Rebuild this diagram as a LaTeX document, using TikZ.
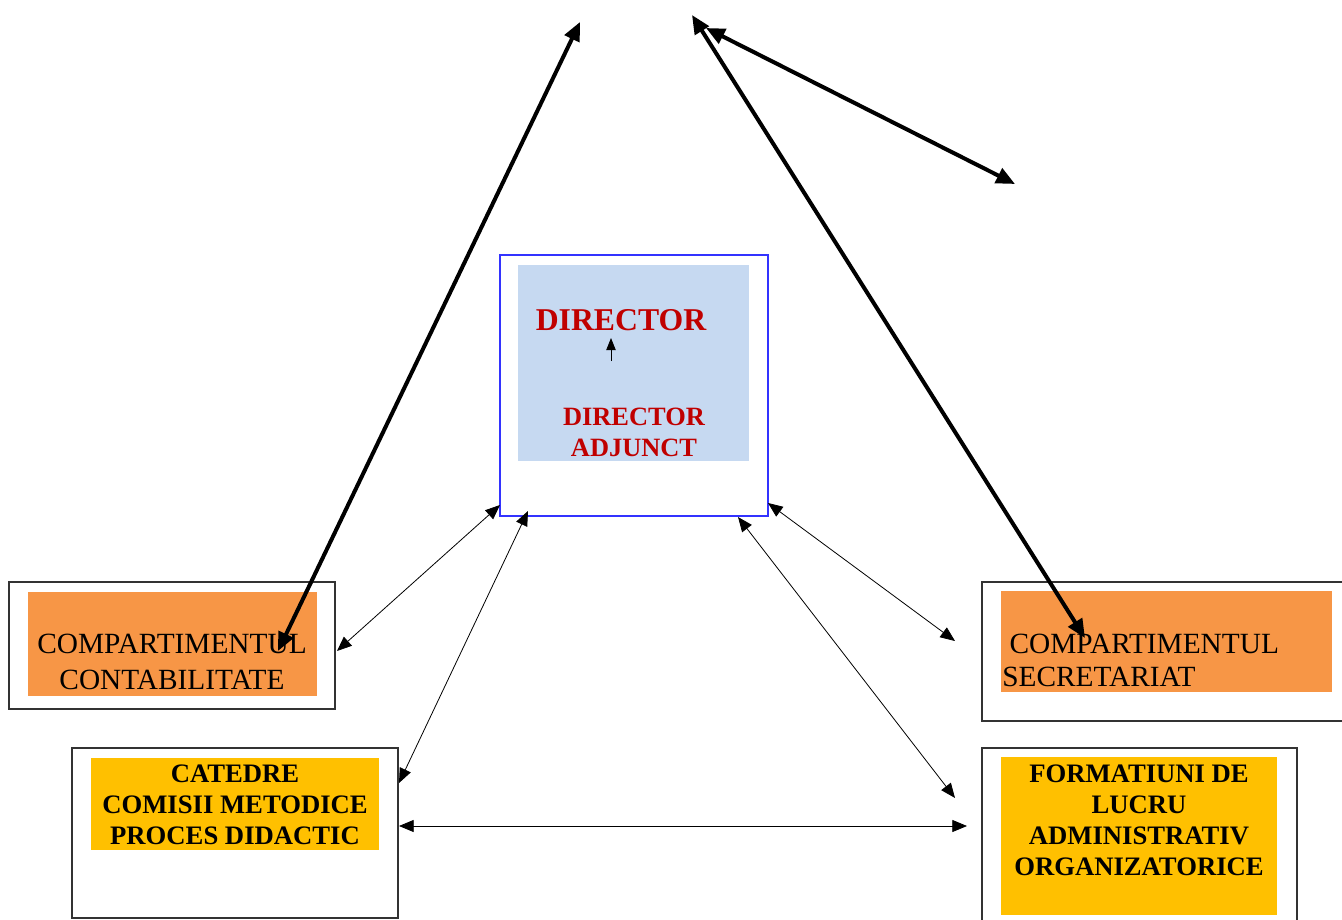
\documentclass[tikz,border=0pt]{standalone}
\usepackage{fontspec}
\setmainfont{Liberation Serif}
\usetikzlibrary{arrows.meta}
\definecolor{dirblue}{HTML}{C6D9F1}
\definecolor{darkred}{HTML}{C00000}
\definecolor{orangefill}{HTML}{F79646}
\definecolor{goldfill}{HTML}{FFC000}
\definecolor{framegray}{HTML}{333333}
\definecolor{frameblue}{HTML}{3333FF}
\begin{document}
\begin{tikzpicture}[x=0.75pt,y=-0.75pt,
  outerbox/.style={draw=framegray,line width=0.9pt,fill=white,inner sep=0pt,outer sep=0pt},
  fillbox/.style={inner sep=0pt,outer sep=0pt},
  thinarrow/.style={{Triangle[length=11pt,width=9pt]}-{Triangle[length=11pt,width=9pt]},line width=0.6pt},
  thickarrow/.style={{Triangle[length=14pt,width=12pt]}-{Triangle[length=14pt,width=12pt]},line width=3pt},
  regtxt/.style={inner sep=0pt,align=left},
  boldtxt/.style={font=\fontsize{20}{23.25}\selectfont\bfseries,inner sep=0pt,align=center}]
\useasboundingbox (0,0) rectangle (1342,920);
% boxes
\node[outerbox,draw=frameblue,minimum width=201pt,minimum height=195.75pt] (dirout) at (634,385.5) {};
\node[fillbox,fill=dirblue,minimum width=173.25pt,minimum height=147pt] (dirin) at (633.5,363) {};
\node[outerbox,minimum width=244.5pt,minimum height=95.25pt] (conout) at (172,645.5) {};
\node[fillbox,fill=orangefill,minimum width=216.75pt,minimum height=78pt] (conin) at (172.5,644) {};
\node[outerbox,minimum width=244.5pt,minimum height=127.5pt] (catout) at (235,833) {};
\node[fillbox,fill=goldfill,minimum width=216pt,minimum height=69pt] (catin) at (235,804) {};
\node[outerbox,minimum width=272.25pt,minimum height=104.25pt] (secout) at (1163.5,651.5) {};
\node[fillbox,fill=orangefill,minimum width=248.25pt,minimum height=75.75pt] (secin) at (1166.5,641.5) {};
\node[outerbox,minimum width=236.25pt,minimum height=132.75pt] (forout) at (1139.5,836.5) {};
\node[fillbox,fill=goldfill,minimum width=207pt,minimum height=118.5pt] (forin) at (1139,836) {};
% texts
\node[font=\fontsize{23.8}{28}\selectfont\bfseries,text=darkred,inner sep=0pt] (dirt) at (621,320) {DIRECTOR};
\node[font=\fontsize{19.8}{23.25}\selectfont\bfseries,text=darkred,inner sep=0pt,align=center] (adj) at (634,432) {DIRECTOR\\ADJUNCT};
\node[regtxt,align=center,font=\fontsize{22}{27}\selectfont] (cont) at (172,662) {COMPARTIMENTUL\\CONTABILITATE};
\node[regtxt,anchor=west,font=\fontsize{22}{24.75}\selectfont] (sect) at (1002,660) {\ COMPARTIMENTUL\\SECRETARIAT};
\node[boldtxt] (catt) at (235,805) {CATEDRE\\COMISII METODICE\\PROCES DIDACTIC};
\node[boldtxt] (fort) at (1139,820) {FORMATIUNI DE\\LUCRU\\ADMINISTRATIV\\ORGANIZATORICE};
% small arrow in director box
\coordinate (sa1) at (611,361);
\coordinate (sa2) at (611,338);
\draw[-{Triangle[length=9pt,width=7pt]},line width=0.6pt] (sa1) -- (sa2);
% endpoints
\coordinate (d1) at (500,505);
\coordinate (c1) at (337,651);
\coordinate (d2) at (528,511);
\coordinate (k1) at (399,783);
\coordinate (d3) at (738,517);
\coordinate (f1) at (955,798);
\coordinate (d4) at (768,503);
\coordinate (s1) at (955,641);
\coordinate (k2) at (399,826);
\coordinate (f2) at (967,826);
\coordinate (t1) at (580,22);
\coordinate (c2) at (278,651);
\coordinate (t2) at (692,15);
\coordinate (s2) at (1085,638);
\coordinate (t3) at (706,28);
\coordinate (t4) at (1015,184);
% thin connectors
\draw[thinarrow] (d1) -- (c1);
\draw[thinarrow] (d2) -- (k1);
\draw[thinarrow] (d3) -- (f1);
\draw[thinarrow] (d4) -- (s1);
\draw[thinarrow] (k2) -- (f2);
% thick connectors
\draw[thickarrow] (t1) -- (c2);
\draw[thickarrow] (t2) -- (s2);
\draw[thickarrow] (t3) -- (t4);
\end{tikzpicture}
\end{document}
